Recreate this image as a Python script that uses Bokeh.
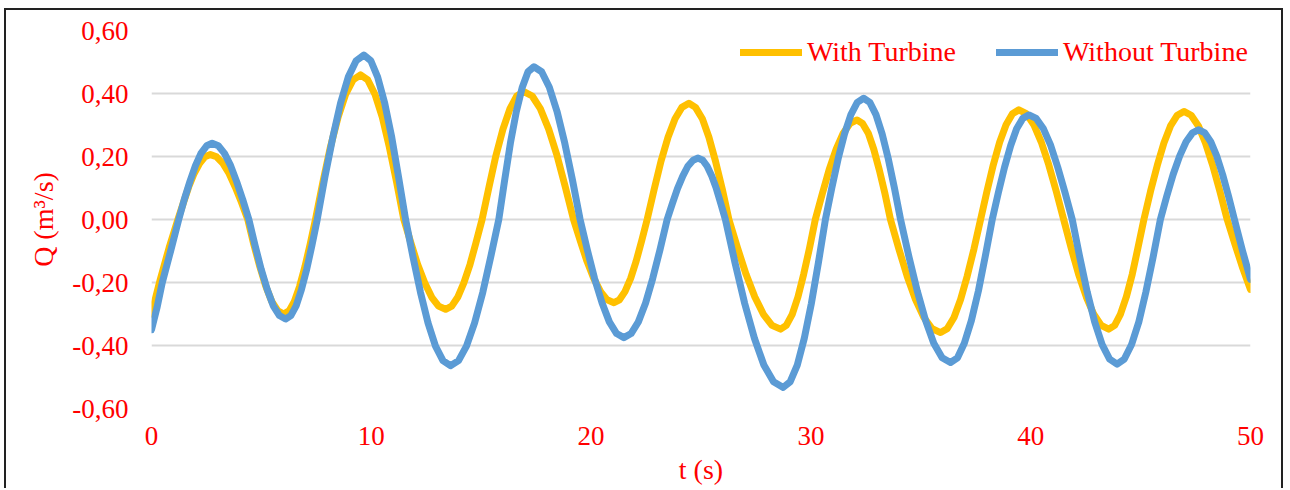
from bokeh.plotting import figure
from bokeh.models import (FixedTicker, CustomJSTickFormatter, Legend, LegendItem, Range1d)
from bokeh.embed import file_html
from bokeh.resources import INLINE

# Flow rate Q (m3/s) over time t (s), with and without the turbine
t_with = [0.00, 0.40, 0.80, 1.20,
          1.45, 1.69, 1.94, 2.19, 2.43, 2.68, 2.96, 3.25, 3.53, 3.81, 4.10, 4.38,
          4.65, 4.93, 5.20, 5.47, 5.75, 6.02, 6.26, 6.50, 6.74, 6.98, 7.22, 7.46,
          7.80, 8.14, 8.49, 8.83, 9.17, 9.51, 9.84, 10.17, 10.50, 10.82, 11.15, 11.48,
          11.80, 12.11, 12.43, 12.75, 13.06, 13.38, 13.66, 13.93, 14.21, 14.49, 14.76, 15.04,
          15.36, 15.67, 15.99, 16.31, 16.62, 16.94, 17.32, 17.69, 18.07, 18.45, 18.82, 19.20,
          19.51, 19.81, 20.12, 20.43, 20.73, 21.04, 21.29, 21.54, 21.80, 22.05, 22.30, 22.55,
          22.87, 23.18, 23.50, 23.82, 24.13, 24.45, 24.75, 25.06, 25.36, 25.66, 25.97, 26.27,
          26.66, 27.05, 27.45, 27.84, 28.23, 28.62, 28.88, 29.15, 29.41, 29.67, 29.94, 30.20,
          30.52, 30.83, 31.15, 31.47, 31.78, 32.10, 32.35, 32.61, 32.86, 33.11, 33.37, 33.62,
          34.00, 34.38, 34.76, 35.14, 35.52, 35.90, 36.20, 36.51, 36.81, 37.11, 37.42, 37.72,
          38.01, 38.30, 38.59, 38.88, 39.17, 39.46, 39.80, 40.14, 40.48, 40.82, 41.16, 41.50,
          41.84, 42.18, 42.53, 42.87, 43.21, 43.55, 43.82, 44.08, 44.35, 44.62, 44.88, 45.15,
          45.45, 45.76, 46.06, 46.36, 46.67, 46.97, 47.30, 47.63, 47.95, 48.28, 48.61, 48.94,
          49.30, 49.65, 50.00]
q_with = [-0.300, -0.190, -0.090, 0.000,
          0.053, 0.103, 0.146, 0.178, 0.199, 0.206, 0.199, 0.178, 0.146, 0.103, 0.053, 0.000,
          -0.078, -0.150, -0.212, -0.260, -0.290, -0.300, -0.290, -0.260, -0.212, -0.150, -0.078, 0.000,
          0.119, 0.230, 0.325, 0.397, 0.443, 0.459, 0.443, 0.397, 0.325, 0.230, 0.119, 0.000,
          -0.074, -0.143, -0.201, -0.247, -0.275, -0.285, -0.275, -0.247, -0.201, -0.143, -0.074, 0.000,
          0.105, 0.203, 0.287, 0.352, 0.392, 0.406, 0.392, 0.352, 0.287, 0.203, 0.105, 0.000,
          -0.068, -0.132, -0.187, -0.229, -0.255, -0.264, -0.255, -0.229, -0.187, -0.132, -0.068, 0.000,
          0.096, 0.185, 0.261, 0.320, 0.356, 0.369, 0.356, 0.320, 0.261, 0.185, 0.096, 0.000,
          -0.090, -0.174, -0.246, -0.301, -0.336, -0.348, -0.336, -0.301, -0.246, -0.174, -0.090, 0.000,
          0.082, 0.158, 0.223, 0.274, 0.305, 0.316, 0.305, 0.274, 0.223, 0.158, 0.082, 0.000,
          -0.093, -0.180, -0.254, -0.311, -0.347, -0.359, -0.347, -0.311, -0.254, -0.180, -0.093, 0.000,
          0.090, 0.174, 0.246, 0.301, 0.336, 0.348, 0.336, 0.301, 0.246, 0.174, 0.090, 0.000,
          -0.090, -0.174, -0.246, -0.301, -0.336, -0.348, -0.336, -0.301, -0.246, -0.174, -0.090, 0.000,
          0.089, 0.172, 0.243, 0.297, 0.331, 0.343, 0.331, 0.297, 0.243, 0.172, 0.089, 0.000,
          -0.080, -0.155, -0.222]

t_without = [0.00, 0.25, 0.49, 0.87, 1.24,
             1.49, 1.75, 2.00, 2.25, 2.51, 2.76, 3.04, 3.32, 3.60, 3.87, 4.15, 4.43,
             4.71, 4.99, 5.27, 5.54, 5.82, 6.10, 6.34, 6.58, 6.82, 7.06, 7.30, 7.54,
             7.89, 8.25, 8.60, 8.95, 9.31, 9.66, 9.98, 10.29, 10.61, 10.93, 11.24, 11.56,
             11.90, 12.24, 12.58, 12.92, 13.26, 13.60, 13.97, 14.33, 14.70, 15.07, 15.43, 15.80,
             16.07, 16.33, 16.60, 16.87, 17.13, 17.40, 17.75, 18.10, 18.45, 18.80, 19.15, 19.50,
             19.83, 20.16, 20.50, 20.83, 21.16, 21.49, 21.82, 22.15, 22.48, 22.80, 23.13, 23.46,
             23.70, 23.93, 24.17, 24.40, 24.64, 24.87, 25.08, 25.28, 25.49, 25.70, 25.90, 26.11,
             26.55, 26.99, 27.43, 27.86, 28.30, 28.74, 29.06, 29.38, 29.70, 30.02, 30.34, 30.66,
             30.95, 31.24, 31.53, 31.82, 32.11, 32.40, 32.68, 32.96, 33.24, 33.52, 33.80, 34.08,
             34.46, 34.84, 35.22, 35.59, 35.97, 36.35, 36.67, 36.98, 37.30, 37.62, 37.93, 38.25,
             38.53, 38.81, 39.09, 39.36, 39.64, 39.92, 40.25, 40.58, 40.91, 41.23, 41.56, 41.89,
             42.23, 42.57, 42.91, 43.25, 43.59, 43.93, 44.26, 44.59, 44.92, 45.24, 45.57, 45.90,
             46.19, 46.48, 46.78, 47.07, 47.36, 47.65, 47.92, 48.19, 48.46, 48.73, 49.00, 49.27,
             49.64, 50.00]
q_without = [-0.350, -0.280, -0.200, -0.100, 0.000,
             0.063, 0.121, 0.171, 0.210, 0.234, 0.242, 0.234, 0.210, 0.171, 0.121, 0.063, 0.000,
             -0.082, -0.158, -0.223, -0.274, -0.305, -0.316, -0.305, -0.274, -0.223, -0.158, -0.082, 0.000,
             0.135, 0.261, 0.369, 0.452, 0.504, 0.522, 0.504, 0.452, 0.369, 0.261, 0.135, 0.000,
             -0.120, -0.232, -0.328, -0.402, -0.448, -0.464, -0.448, -0.402, -0.328, -0.232, -0.120, 0.000,
             0.126, 0.243, 0.343, 0.420, 0.469, 0.485, 0.469, 0.420, 0.343, 0.243, 0.126, 0.000,
             -0.097, -0.188, -0.265, -0.325, -0.362, -0.375, -0.362, -0.325, -0.265, -0.188, -0.097, 0.000,
             0.051, 0.098, 0.138, 0.169, 0.188, 0.195, 0.188, 0.169, 0.138, 0.098, 0.051, 0.000,
             -0.138, -0.267, -0.377, -0.462, -0.515, -0.533, -0.515, -0.462, -0.377, -0.267, -0.138, 0.000,
             0.100, 0.193, 0.272, 0.333, 0.372, 0.385, 0.372, 0.333, 0.272, 0.193, 0.100, 0.000,
             -0.118, -0.227, -0.321, -0.393, -0.439, -0.454, -0.439, -0.393, -0.321, -0.227, -0.118, 0.000,
             0.086, 0.166, 0.235, 0.288, 0.321, 0.332, 0.321, 0.288, 0.235, 0.166, 0.086, 0.000,
             -0.119, -0.230, -0.325, -0.397, -0.443, -0.459, -0.443, -0.397, -0.325, -0.230, -0.119, 0.000,
             0.074, 0.143, 0.202, 0.247, 0.275, 0.285, 0.275, 0.247, 0.202, 0.143, 0.074, 0.000,
             -0.100, -0.190]

y_ticks = [-0.6, -0.4, -0.2, 0.0, 0.2, 0.4, 0.6]
x_ticks = [0, 10, 20, 30, 40, 50]

RED = "#FF0000"
SERIF = "Liberation Serif"

p = figure(width=1279, height=480, output_backend="svg", toolbar_location=None,
           x_range=Range1d(0, 50), y_range=Range1d(-0.6, 0.6),
           min_border_left=145, min_border_right=35, min_border_top=20, min_border_bottom=82)
# thin dark frame around the whole chart (open at the bottom edge of the page)
p.margin = (8, 0, 0, 4)
p.styles = {"border-left": "2px solid #222222", "border-top": "2px solid #222222",
            "border-right": "2px solid #222222"}
p.background_fill_color = "white"
p.border_fill_color = "white"
p.outline_line_color = None

line_with = p.line(t_with, q_with, line_color="#FFC000", line_width=7,
                   line_join="round", line_cap="round")
line_without = p.line(t_without, q_without, line_color="#5B9BD5", line_width=7,
                      line_join="round", line_cap="round")

# horizontal grid only
p.xgrid.visible = False
p.ygrid.grid_line_color = "#D9D9D9"
p.ygrid.grid_line_width = 2

for ax in (p.xaxis[0], p.yaxis[0]):
    ax.axis_line_color = None
    ax.major_tick_line_color = None
    ax.minor_tick_line_color = None
    ax.major_tick_out = 0
    ax.major_tick_in = 0
    ax.minor_tick_out = 0
    ax.minor_tick_in = 0
    ax.major_label_text_color = RED
    ax.major_label_text_font = SERIF
    ax.major_label_text_font_size = "27px"
    ax.axis_label_text_color = RED
    ax.axis_label_text_font = SERIF
    ax.axis_label_text_font_size = "28px"
    ax.axis_label_text_font_style = "normal"

p.yaxis.ticker = FixedTicker(ticks=y_ticks)
p.yaxis.formatter = CustomJSTickFormatter(code="return tick.toFixed(2).replace('.', ',');")
p.yaxis.major_label_standoff = 23
p.yaxis.axis_label = "Q (m³/s)"
p.yaxis.axis_label_standoff = 10

p.xaxis.ticker = FixedTicker(ticks=x_ticks)
p.xaxis.major_label_standoff = 18
p.xaxis.axis_label = "t (s)"
p.xaxis.axis_label_standoff = 6

legend = Legend(items=[LegendItem(label="With Turbine", renderers=[line_with]),
                       LegendItem(label="Without Turbine", renderers=[line_without])],
                orientation="horizontal", location=(589, 340),
                label_text_color=RED, label_text_font=SERIF, label_text_font_size="28px",
                glyph_width=62, glyph_height=20, label_standoff=5, spacing=40,
                padding=0, margin=0, border_line_color=None, background_fill_alpha=0)
p.add_layout(legend)

open("out.html", "w").write(file_html(p, INLINE))
